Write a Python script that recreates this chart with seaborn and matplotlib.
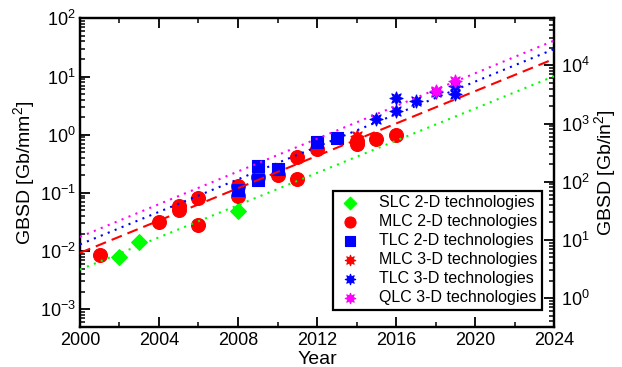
import numpy as np
import pandas as pd
import matplotlib
matplotlib.use("Agg")
import matplotlib.pyplot as plt
import matplotlib.ticker as mticker
import seaborn as sns

sns.set_theme(style="ticks")
plt.rcParams['font.family'] = ['Liberation Sans', 'DejaVu Sans']
plt.rcParams['mathtext.fontset'] = 'custom'
plt.rcParams['mathtext.rm'] = 'Liberation Sans'
plt.rcParams['mathtext.it'] = 'Liberation Sans:italic'
plt.rcParams['mathtext.bf'] = 'Liberation Sans:bold'
plt.rcParams['text.color'] = 'black'
plt.rcParams['axes.labelcolor'] = 'black'
plt.rcParams['xtick.color'] = 'black'
plt.rcParams['ytick.color'] = 'black'

# ---- data ----
slc2d_years = [2002, 2003, 2008]
slc2d_vals = [0.0078, 0.0144, 0.048]
mlc2d_years = [2001, 2004, 2005, 2005, 2006, 2006, 2008, 2008, 2009, 2010, 2011, 2011, 2012, 2014, 2014, 2015, 2016]
mlc2d_vals = [0.0085, 0.0317, 0.059, 0.051, 0.082, 0.0285, 0.129, 0.087, 0.19, 0.205, 0.42, 0.175, 0.566, 0.78, 0.68, 0.85, 1.0]
tlc2d_years = [2008, 2009, 2009, 2010, 2012, 2013]
tlc2d_vals = [0.11, 0.285, 0.168, 0.257, 0.76, 0.875]
mlc3d_years = [2014]
mlc3d_vals = [0.95]
tlc3d_years = [2015, 2016, 2016, 2017, 2018, 2019, 2019]
tlc3d_vals = [1.85, 2.6, 4.25, 3.87, 5.4, 6.8, 5.0]
qlc3d_years = [2018, 2019]
qlc3d_vals = [5.7, 8.5]

trend_years = [2000, 2024]
trend_slc = [0.0048, 10.1]
trend_mlc = [0.0093, 20.1]
trend_tlc = [0.013, 29.6]
trend_qlc = [0.0175, 41.4]

MM2_TO_IN2 = 645.16

fig = plt.figure(figsize=(6.22, 3.67), dpi=100)
ax = fig.add_axes([0.1286, 0.1098, 0.7621, 0.8402])

star = (8, 1, 0)
series = [
    (slc2d_years, slc2d_vals, 'D', '#00ff00', 65, 'SLC 2-D technologies'),
    (mlc2d_years, mlc2d_vals, 'o', '#ff0000', 100, 'MLC 2-D technologies'),
    (tlc2d_years, tlc2d_vals, 's', '#0000ff', 75, 'TLC 2-D technologies'),
    (mlc3d_years, mlc3d_vals, star, '#ff0000', 90, 'MLC 3-D technologies'),
    (tlc3d_years, tlc3d_vals, star, '#0000ff', 90, 'TLC 3-D technologies'),
    (qlc3d_years, qlc3d_vals, star, '#ff00ff', 90, 'QLC 3-D technologies'),
]
for xs, ys, mk, col, sz, lab in series:
    sns.scatterplot(x=xs, y=ys, marker=mk, color=col, s=sz, edgecolor=col,
                    linewidth=0.8, ax=ax, label=lab, zorder=3)

trends = [
    (trend_slc, '#00ff00', (0, (1, 2.6))),
    (trend_mlc, '#ff0000', (0, (5.3, 2.9))),
    (trend_tlc, '#0000ff', (0, (1, 2.6))),
    (trend_qlc, '#ff00ff', (0, (1, 2.6))),
]
for ys, col, ls in trends:
    sns.lineplot(x=trend_years, y=ys, color=col, linestyle=ls, linewidth=1.5,
                 ax=ax, zorder=4, legend=False)

ax.set_yscale('log')
ax.set_xlim(2000, 2024)
ax.set_ylim(5e-4, 100)
ax.xaxis.set_major_locator(mticker.MultipleLocator(4))
ax.xaxis.set_minor_locator(mticker.MultipleLocator(2))
ax.yaxis.set_major_locator(mticker.LogLocator(base=10, numticks=20))
ax.yaxis.set_minor_locator(mticker.LogLocator(base=10, subs=np.arange(2, 10), numticks=20))
ax.yaxis.set_minor_formatter(mticker.NullFormatter())

ax.tick_params(axis='both', which='both', direction='in', colors='black', labelsize=13)
ax.tick_params(axis='x', which='both', top=True, bottom=True)
ax.tick_params(axis='y', which='both', left=True, right=False)
ax.tick_params(which='major', length=7, width=1.3, pad=3)
ax.tick_params(which='minor', length=3.5, width=1.1)
ax.tick_params(axis='x', which='major', pad=4)
for sp in ax.spines.values():
    sp.set_linewidth(1.6)
    sp.set_color('black')

ax.set_xlabel('Year', fontsize=14, labelpad=1)
ax.set_ylabel('GBSD [Gb/mm$^2$]', fontsize=14, labelpad=2)

ax2 = ax.twinx()
ax2.set_yscale('log')
ax2.set_ylim(5e-4 * MM2_TO_IN2, 100 * MM2_TO_IN2)
ax2.yaxis.set_major_locator(mticker.LogLocator(base=10, numticks=20))
ax2.yaxis.set_minor_locator(mticker.LogLocator(base=10, subs=np.arange(2, 10), numticks=20))
ax2.yaxis.set_minor_formatter(mticker.NullFormatter())
ax2.tick_params(axis='y', which='both', direction='in', colors='black', labelsize=13)
ax2.tick_params(which='major', length=7, width=1.3, pad=5)
ax2.tick_params(which='minor', length=3.5, width=1.1)
for sp in ax2.spines.values():
    sp.set_linewidth(1.6)
    sp.set_color('black')
ax2.set_ylabel('GBSD [Gb/in$^2$]', fontsize=14, labelpad=2)

handles, labels = ax.get_legend_handles_labels()
leg = ax.legend(handles, labels, loc='lower right', bbox_to_anchor=(0.975, 0.054),
                borderaxespad=0, fontsize=11.5, frameon=True, fancybox=False,
                labelspacing=0.25, handletextpad=1.0, borderpad=0.3,
                handlelength=1.6, markerscale=0.8)
leg.get_frame().set_edgecolor('black')
leg.get_frame().set_linewidth(1.6)
leg.get_frame().set_facecolor('white')
leg.get_frame().set_alpha(1)
leg.set_zorder(10)
ax.set_zorder(ax2.get_zorder() + 1)
ax.patch.set_visible(False)

fig.savefig('out.png', dpi=100)
